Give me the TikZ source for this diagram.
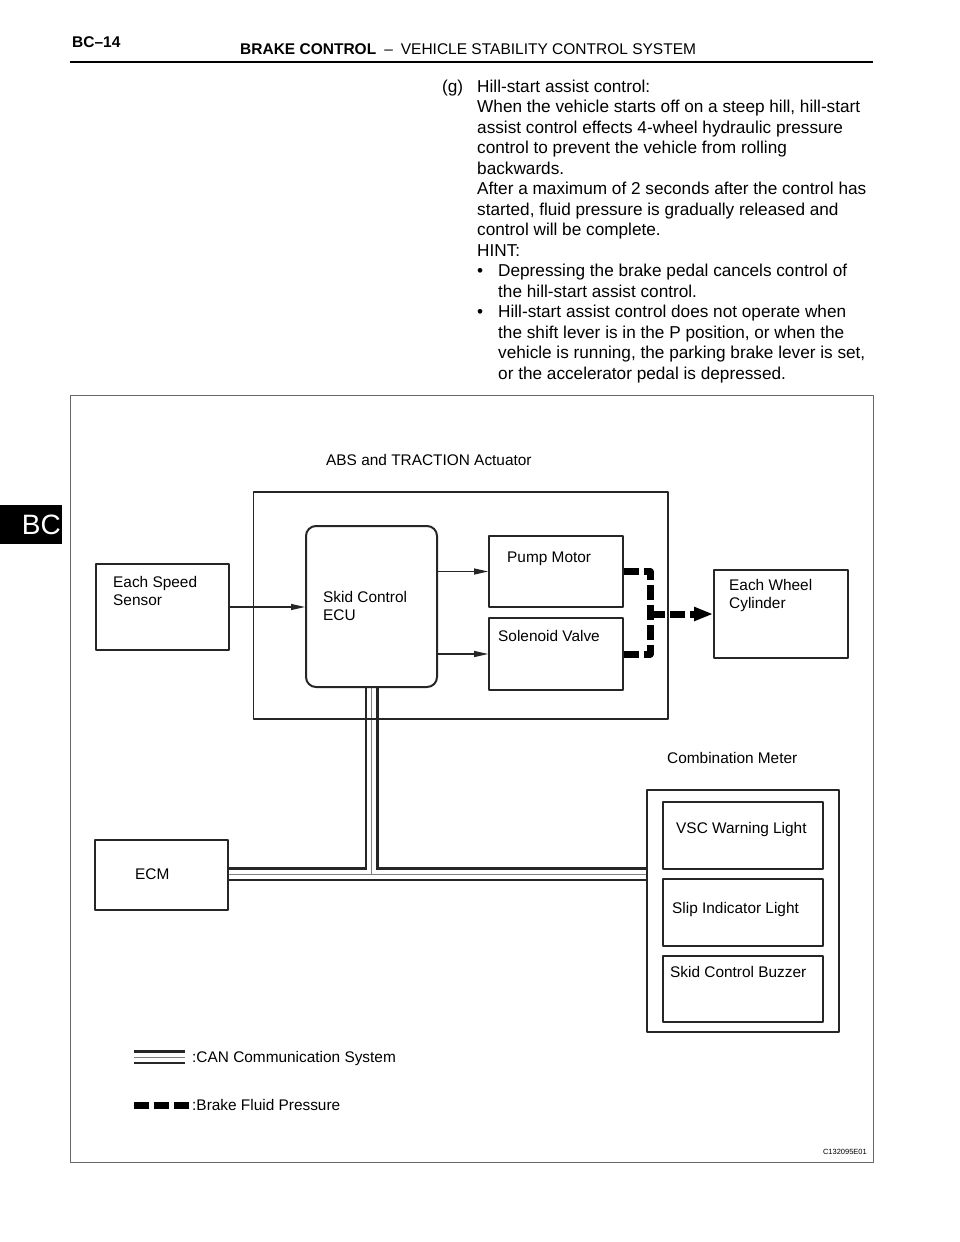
\documentclass[tikz,border=0pt]{standalone}
\usepackage{fontspec}
\setmainfont{Liberation Sans}
\usetikzlibrary{arrows.meta,backgrounds}

\begin{document}
\begin{tikzpicture}[
        x = 1pt, y = -1pt,
        line join=round,
        box/.style = {draw=black!85, line width=1.7pt, inner sep=0pt},
        lbl/.style = {anchor=base west, align=left, inner sep=0pt, font=\fontsize{15.4}{18.5}\selectfont},
        txt/.style = {anchor=base west, align=left, inner sep=0pt, font=\fontsize{17.2}{20.5}\selectfont},
        sig/.style = {draw=black!85, line width=1.2pt, -{Triangle[length=14pt,width=6pt]}},
        fluid/.style = {line width=7pt, dash pattern=on 15pt off 5pt}
    ]
    \useasboundingbox (0,0) rectangle (960,1242);

    % page header
    \node[anchor=base west, inner sep=0pt, font=\bfseries\fontsize{15.5}{18}\selectfont] (page) at (72,47) {BC--14};
    \node[anchor=base west, inner sep=0pt, font=\fontsize{15.5}{18}\selectfont] (title) at (240,54)
        {\textbf{BRAKE CONTROL}\hspace{8pt}--\hspace{8pt}VEHICLE STABILITY CONTROL SYSTEM};
    \draw[line width=2.5pt] (70,62) -- (873,62);

    % side tab
    \fill (0,505) rectangle (62,544);
    \node[anchor=base east, inner sep=0pt, white, font=\fontsize{28}{28}\selectfont] (tab) at (61,534.5) {BC};

    % text (base = last line)
    \node[txt] (item) at (442,92) {(g)};
    \node[txt] (hint) at (477,379) {Hill-start assist control:\\
        When the vehicle starts off on a steep hill, hill-start\\
        assist control effects 4-wheel hydraulic pressure\\
        control to prevent the vehicle from rolling\\
        backwards.\\
        After a maximum of 2 seconds after the control has\\
        started, fluid pressure is gradually released and\\
        control will be complete.\\
        HINT:\\
        \makebox[21pt][l]{•}Depressing the brake pedal cancels control of\\
        \hspace*{21pt}the hill-start assist control.\\
        \makebox[21pt][l]{•}Hill-start assist control does not operate when\\
        \hspace*{21pt}the shift lever is in the P position, or when the\\
        \hspace*{21pt}vehicle is running, the parking brake lever is set,\\
        \hspace*{21pt}or the accelerator pedal is depressed.};

    % figure frame
    \draw[black!60, line width=0.9pt] (70,395) rectangle (873,1162);

    % boxes
    \node[box, minimum width=414.5pt, minimum height=227pt] (act) at (460.75,605.5) {};
    \node[box, rounded corners=10pt, line width=2pt, minimum width=131pt, minimum height=161pt] (ecu) at (371.5,606.5) {};
    \node[box, minimum width=134pt, minimum height=71pt] (pump) at (556,571.5) {};
    \node[box, minimum width=134pt, minimum height=72pt] (sol) at (556,654) {};
    \node[box, minimum width=133pt, minimum height=86pt] (speed) at (162.5,607) {};
    \node[box, minimum width=134pt, minimum height=88pt] (wheel) at (781,614) {};
    \node[box, minimum width=133pt, minimum height=70pt] (ecm) at (161.5,875) {};
    \node[box, minimum width=192pt, minimum height=242pt] (meter) at (743,911) {};
    \node[box, minimum width=160pt, minimum height=67pt] (vsc) at (743,835.5) {};
    \node[box, minimum width=160pt, minimum height=67pt] (slip) at (743,912.5) {};
    \node[box, minimum width=160pt, minimum height=66pt] (buzz) at (743,989) {};

    % labels
    \node[lbl] (actlbl) at (326,465.5) {ABS and TRACTION Actuator};
    \node[lbl] (ecutx) at (323,620.5) {Skid Control\\ECU};
    \node[lbl] (pumptx) at (507,562.5) {Pump Motor};
    \node[lbl] (soltx) at (498,641.5) {Solenoid Valve};
    \node[lbl] (speedtx) at (113,605.5) {Each Speed\\Sensor};
    \node[lbl] (wheeltx) at (729,608.5) {Each Wheel\\Cylinder};
    \node[lbl] (ecmtx) at (135,879) {ECM};
    \node[lbl] (meterlbl) at (667,763.5) {Combination Meter};
    \node[lbl] (vsctx) at (676,833.5) {VSC Warning Light};
    \node[lbl] (sliptx) at (672,913.5) {Slip Indicator Light};
    \node[lbl] (buzztx) at (670,977.5) {Skid Control Buzzer};

    % signal lines
    \draw[sig] (speed.east) -- (ecu.west |- speed.east);
    \draw[sig] (ecu.east |- pump.west) -- (pump.west);
    \draw[sig] (ecu.east |- sol.west) -- (sol.west);

    % brake fluid
    \coordinate (fork) at (650,614);
    \draw[fluid] (pump.east) -| (fork |- sol.east) -- (sol.east);
    \draw[fluid, -{Triangle[length=19pt,width=13pt]}] (fork) -- (wheel.west);

    % CAN bus
    \coordinate (tee) at (371.5,874);
    \coordinate (canA) at (134,1057);
    \coordinate (canB) at (185,1057);
    \begin{scope}[on background layer]
        \foreach \w/\c in {14pt/black!85, 9pt/white, 1pt/black!50}
            \draw[line width=\w, \c] (ecu.south) -- (tee) (ecm.east |- tee) -- (meter.west |- tee) (canA) -- (canB);
    \end{scope}

    % legend
    \coordinate (flA) at (134,1105.5);
    \coordinate (flB) at (189,1105.5);
    \draw[fluid] (flA) -- (flB);
    \node[lbl] (cantx) at (192,1062.5) {:CAN Communication System};
    \node[lbl] (fltx) at (192,1110.5) {:Brake Fluid Pressure};

    \node[anchor=base east, inner sep=0pt, font=\fontsize{7.5}{9}\selectfont] (code) at (867,1154) {C132095E01};
\end{tikzpicture}
\end{document}
